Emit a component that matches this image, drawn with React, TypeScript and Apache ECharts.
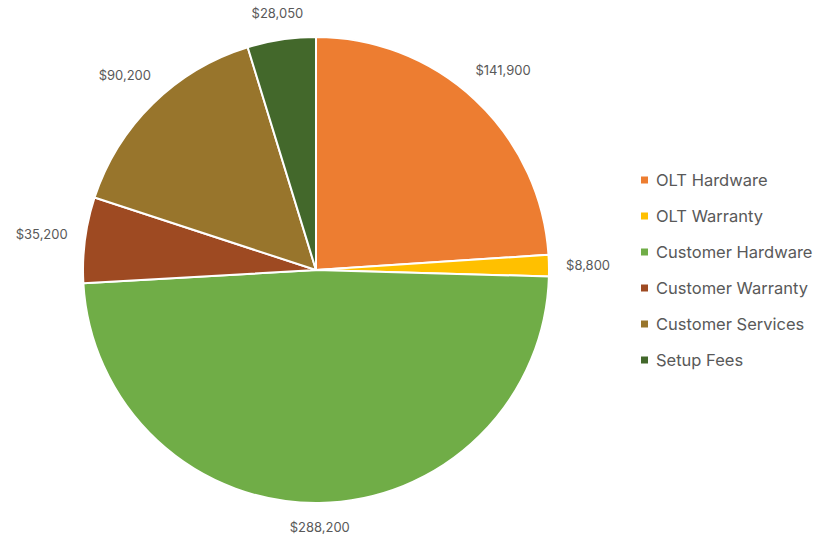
import React, { useEffect, useRef } from "react";
import * as echarts from "echarts";

const categories = ["OLT Hardware", "OLT Warranty", "Customer Hardware", "Customer Warranty", "Customer Services", "Setup Fees"];
const values = [141900, 8800, 288200, 35200, 90200, 28050];
const colors = ["#ED7D31", "#FFC000", "#70AD47", "#9E4A22", "#98752C", "#43682B"];

const CX = 316;
const CY = 270;
const R = 233;

export default function App() {
  const ref = useRef<HTMLDivElement>(null);
  useEffect(() => {
    if (!ref.current) return;
    const chart = echarts.init(ref.current, undefined, { renderer: "svg" });
    const total = values.reduce((a, b) => a + b, 0);
    const mids: number[] = [];
    let acc = 0;
    values.forEach((v) => {
      mids.push(((acc + v / 2) / total) * Math.PI * 2);
      acc += v;
    });
    const font = "Inter, 'Noto Sans', sans-serif";
    chart.setOption({
      animation: false,
      color: colors,
      textStyle: { fontFamily: font },
      legend: {
        orient: "vertical",
        left: 639,
        top: 171,
        padding: 0,
        itemWidth: 9,
        itemHeight: 9,
        itemGap: 18,
        icon: "rect",
        textStyle: { fontSize: 16.5, color: "#595959", lineHeight: 18, fontFamily: font, padding: [0, 0, 0, 2] },
        data: categories,
      },
      series: [
        {
          type: "pie",
          center: [CX, CY],
          radius: R,
          startAngle: 90,
          clockwise: true,
          avoidLabelOverlap: false,
          itemStyle: { borderColor: "#fff", borderWidth: 2 },
          label: {
            show: true,
            position: "outside",
            fontSize: 13,
            color: "#595959",
            fontFamily: font,
            formatter: (p: any) => "$" + Number(p.value).toLocaleString("en-US"),
          },
          labelLine: { show: false },
          labelLayout: (p: any) => {
            const a = mids[p.dataIndex];
            const dx = Math.sin(a);
            const dy = -Math.cos(a);
            const w = p.labelRect.width;
            const h = p.labelRect.height;
            const d = R + 17 + Math.abs(dx) * w / 2 + Math.abs(dy) * h / 2;
            return { x: CX + d * dx, y: CY + d * dy, align: "center", verticalAlign: "middle" };
          },
          data: categories.map((c, i) => ({ name: c, value: values[i] })),
        },
      ],
    });
    return () => chart.dispose();
  }, []);
  return <div ref={ref} style={{ position: "fixed", left: 0, top: 0, width: 837, height: 539, background: "#fff" }} />;
}
